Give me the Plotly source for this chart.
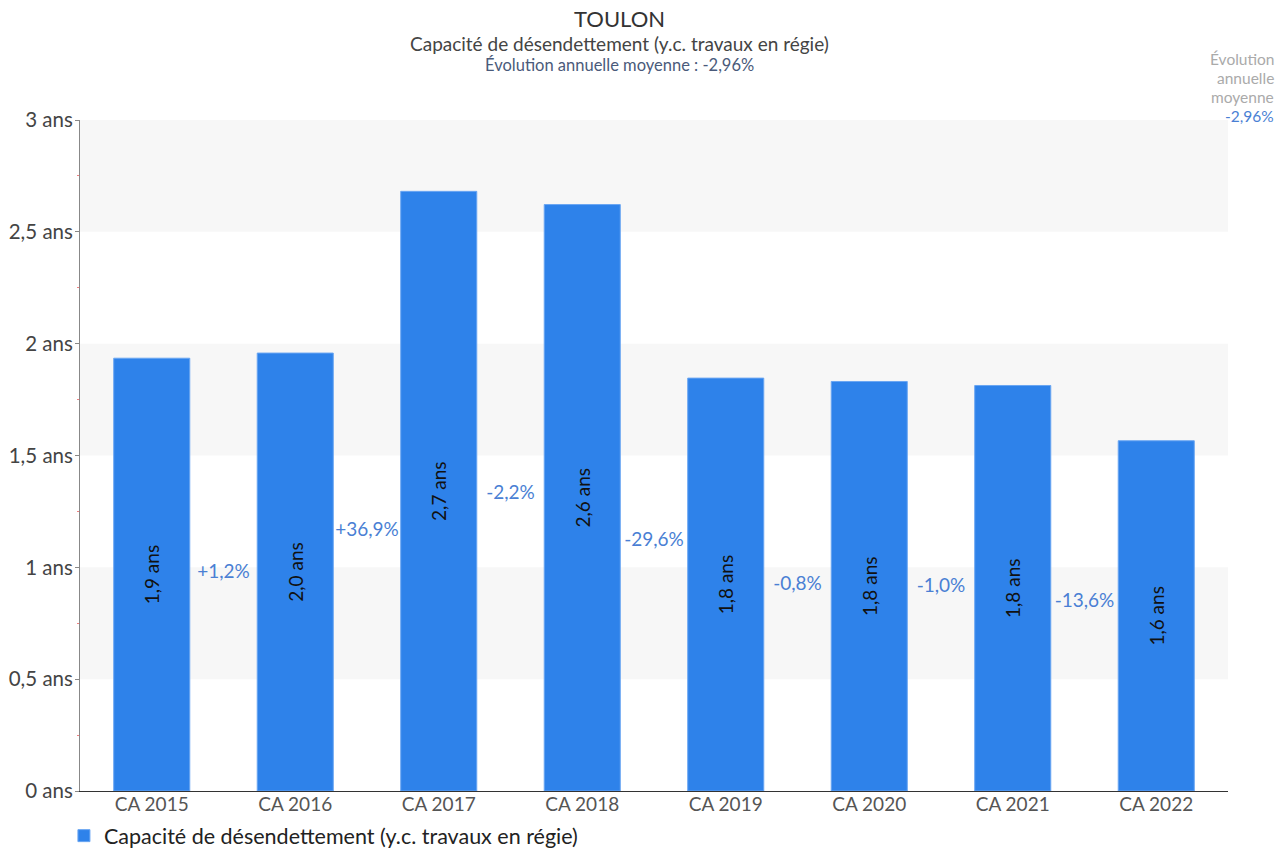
import plotly.graph_objects as go

# Capacité de désendettement, Toulon (années)
categories = ["CA 2015", "CA 2016", "CA 2017", "CA 2018", "CA 2019", "CA 2020", "CA 2021", "CA 2022"]
values = [1.935, 1.958, 2.681, 2.622, 1.846, 1.831, 1.813, 1.566]
bar_labels = ["1,9 ans", "2,0 ans", "2,7 ans", "2,6 ans", "1,8 ans", "1,8 ans", "1,8 ans", "1,6 ans"]
evolution_labels = ["+1,2%", "+36,9%", "-2,2%", "-29,6%", "-0,8%", "-1,0%", "-13,6%"]
y_ticks = [0, 0.5, 1, 1.5, 2, 2.5, 3]
y_tick_labels = ["0 ans", "0,5 ans", "1 ans", "1,5 ans", "2 ans", "2,5 ans", "3 ans"]
avg_evolution = "-2,96%"
series_name = "Capacité de désendettement (y.c. travaux en régie)"

FONT = "Lato"
BAR = "#2e82ea"
EVO = "#4a7fd4"

fig = go.Figure()
fig.add_trace(go.Bar(
    x=list(range(len(categories))),
    y=values,
    name=series_name,
    marker=dict(color=BAR, line=dict(color="#6aa6f2", width=1)),
    text=bar_labels,
    textposition="inside",
    insidetextanchor="middle",
    textangle=-90,
    textfont=dict(family=FONT, size=19, color="#111"),
    width=0.53,
    hoverinfo="skip",
    showlegend=True,
))

# Évolution entre deux exercices, placée entre les barres à mi-hauteur
ev_x = [i + 0.5 for i in range(len(values) - 1)]
ev_y = [(values[i] + values[i + 1]) / 4 for i in range(len(values) - 1)]
fig.add_trace(go.Scatter(
    x=ev_x, y=ev_y, mode="text", text=evolution_labels,
    textfont=dict(family=FONT, size=19, color=EVO),
    showlegend=False, hoverinfo="skip",
))

# Bandes alternées de fond
shapes = []
for lo in [0.5, 1.5, 2.5]:
    shapes.append(dict(type="rect", xref="paper", yref="y", x0=0, x1=1, y0=lo, y1=lo + 0.5,
                       fillcolor="#f7f7f7", line=dict(width=0), layer="below"))

fig.update_layout(
    width=1285, height=850,
    margin=dict(l=80, r=57, t=120, b=59, autoexpand=False),
    paper_bgcolor="white", plot_bgcolor="white",
    font=dict(family=FONT, color="#444"),
    shapes=shapes,
    showlegend=True,
    legend=dict(orientation="h", x=-0.014, y=-0.036, xanchor="left", yanchor="top",
                font=dict(family=FONT, size=21.5, color="#222"), itemwidth=30),
    xaxis=dict(
        tickmode="array", tickvals=list(range(len(categories))), ticktext=categories,
        range=[-0.5, len(categories) - 0.5],
        showgrid=False, zeroline=False,
        showline=True, linecolor="#333", linewidth=1,
        tickfont=dict(family=FONT, size=19, color="#555"),
        ticks="", ticklabelstandoff=-4, fixedrange=True,
    ),
    yaxis=dict(
        range=[0, 3], tickmode="array", tickvals=y_ticks, ticktext=y_tick_labels,
        showgrid=False, zeroline=False,
        showline=True, linecolor="#888", linewidth=1,
        ticks="outside", ticklen=4, tickcolor="#888", ticklabelstandoff=-2,
        tickfont=dict(family=FONT, size=20.5, color="#444"),
        minor=dict(dtick=0.25, ticks="outside", ticklen=2, tickcolor="#f08080"),
        fixedrange=True,
    ),
    annotations=[
        dict(text="TOULON", showarrow=False, font=dict(family=FONT, size=22, color="#333")),
        dict(text=series_name, showarrow=False, font=dict(family=FONT, size=19, color="#444")),
        dict(text="Évolution annuelle moyenne : " + avg_evolution, showarrow=False,
             font=dict(family=FONT, size=16.5, color="#4a5a7a")),
        dict(text="Évolution", showarrow=False, xanchor="right", borderpad=0,
             font=dict(family=FONT, size=15.5, color="#aaa")),
        dict(text="annuelle", showarrow=False, xanchor="right", borderpad=0,
             font=dict(family=FONT, size=15.5, color="#aaa")),
        dict(text="moyenne", showarrow=False, xanchor="right", borderpad=0,
             font=dict(family=FONT, size=15.5, color="#aaa")),
        dict(text=avg_evolution, showarrow=False, xanchor="right", borderpad=0,
             font=dict(family=FONT, size=15.5, color=EVO)),
    ],
)

# Positionnement des annotations en pixels
W, H = 1285, 850
L, R, T, B = 80, 57, 120, 59
pw, ph = W - L - R, H - T - B

def px(xp):
    return (xp - L) / pw

def py(yp):
    return (H - B - yp) / ph

ann = list(fig.layout.annotations)
pos = [(619, 18), (619, 44), (619, 65), (1275, 59), (1275, 78), (1275, 97), (1275, 116)]
for a, (xp, yp) in zip(ann, pos):
    a.x = px(xp)
    a.y = py(yp)
    a.xref = "paper"
    a.yref = "paper"
    a.yanchor = "middle"
fig.layout.annotations = ann

fig.write_html("out.html")
